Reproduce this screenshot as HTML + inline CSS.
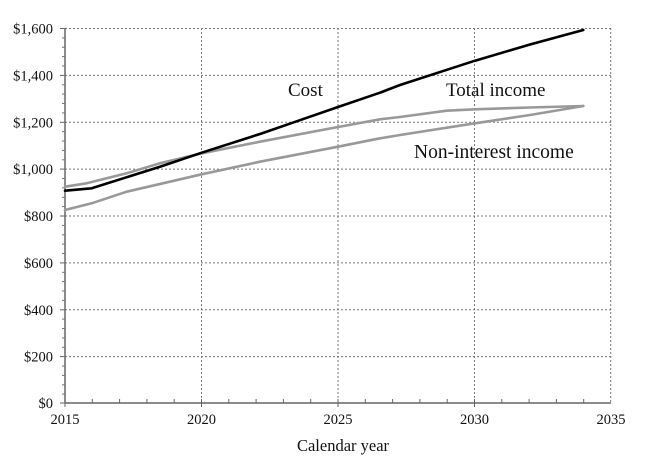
<!DOCTYPE html>
<html><head><meta charset="utf-8"><style>
html,body{margin:0;padding:0;background:#fff;}
svg{display:block;}
</style></head><body>
<svg width="648" height="468" viewBox="0 0 648 468" xmlns="http://www.w3.org/2000/svg" font-family="'Liberation Serif', serif">
<rect width="648" height="468" fill="#fff"/>
<!-- grid -->
<g stroke="#777" stroke-width="1" stroke-dasharray="2,2" fill="none">
<line x1="65" y1="28.5" x2="611" y2="28.5"/>
<line x1="65" y1="75.4" x2="611" y2="75.4"/>
<line x1="65" y1="122.3" x2="611" y2="122.3"/>
<line x1="65" y1="169.1" x2="611" y2="169.1"/>
<line x1="65" y1="216" x2="611" y2="216"/>
<line x1="65" y1="262.9" x2="611" y2="262.9"/>
<line x1="65" y1="309.8" x2="611" y2="309.8"/>
<line x1="65" y1="356.6" x2="611" y2="356.6"/>
<line x1="201.5" y1="28" x2="201.5" y2="403"/>
<line x1="338" y1="28" x2="338" y2="403"/>
<line x1="474.5" y1="28" x2="474.5" y2="403"/>
<line x1="610.7" y1="28" x2="610.7" y2="403"/>
</g>
<!-- axes -->
<g stroke="#666" stroke-width="1.5" fill="none">
<line x1="65" y1="28" x2="65" y2="403.5"/>
<line x1="64.5" y1="403" x2="611" y2="403"/>
</g>
<!-- y ticks -->
<g stroke="#666" stroke-width="1">
<line x1="60" y1="28.5" x2="65" y2="28.5"/>
<line x1="60" y1="75.4" x2="65" y2="75.4"/>
<line x1="60" y1="122.3" x2="65" y2="122.3"/>
<line x1="60" y1="169.1" x2="65" y2="169.1"/>
<line x1="60" y1="216" x2="65" y2="216"/>
<line x1="60" y1="262.9" x2="65" y2="262.9"/>
<line x1="60" y1="309.8" x2="65" y2="309.8"/>
<line x1="60" y1="356.6" x2="65" y2="356.6"/>
<line x1="60" y1="403" x2="65" y2="403"/>
</g>
<g stroke="#777" stroke-width="1">
<line x1="62" y1="37.9" x2="65" y2="37.9"/><line x1="62" y1="47.3" x2="65" y2="47.3"/><line x1="62" y1="56.6" x2="65" y2="56.6"/><line x1="62" y1="66" x2="65" y2="66"/>
<line x1="62" y1="84.8" x2="65" y2="84.8"/><line x1="62" y1="94.1" x2="65" y2="94.1"/><line x1="62" y1="103.5" x2="65" y2="103.5"/><line x1="62" y1="112.9" x2="65" y2="112.9"/>
<line x1="62" y1="131.6" x2="65" y2="131.6"/><line x1="62" y1="141" x2="65" y2="141"/><line x1="62" y1="150.4" x2="65" y2="150.4"/><line x1="62" y1="159.8" x2="65" y2="159.8"/>
<line x1="62" y1="178.5" x2="65" y2="178.5"/><line x1="62" y1="187.9" x2="65" y2="187.9"/><line x1="62" y1="197.3" x2="65" y2="197.3"/><line x1="62" y1="206.6" x2="65" y2="206.6"/>
<line x1="62" y1="225.4" x2="65" y2="225.4"/><line x1="62" y1="234.8" x2="65" y2="234.8"/><line x1="62" y1="244.1" x2="65" y2="244.1"/><line x1="62" y1="253.5" x2="65" y2="253.5"/>
<line x1="62" y1="272.3" x2="65" y2="272.3"/><line x1="62" y1="281.6" x2="65" y2="281.6"/><line x1="62" y1="291" x2="65" y2="291"/><line x1="62" y1="300.4" x2="65" y2="300.4"/>
<line x1="62" y1="319.1" x2="65" y2="319.1"/><line x1="62" y1="328.5" x2="65" y2="328.5"/><line x1="62" y1="337.9" x2="65" y2="337.9"/><line x1="62" y1="347.3" x2="65" y2="347.3"/>
<line x1="62" y1="366" x2="65" y2="366"/><line x1="62" y1="375.4" x2="65" y2="375.4"/><line x1="62" y1="384.8" x2="65" y2="384.8"/><line x1="62" y1="394.1" x2="65" y2="394.1"/>
</g>
<!-- x ticks -->
<g stroke="#666" stroke-width="1">
<line x1="92.3" y1="399" x2="92.3" y2="403"/><line x1="119.6" y1="399" x2="119.6" y2="403"/><line x1="146.9" y1="399" x2="146.9" y2="403"/><line x1="174.2" y1="399" x2="174.2" y2="403"/>
<line x1="228.8" y1="399" x2="228.8" y2="403"/><line x1="256.1" y1="399" x2="256.1" y2="403"/><line x1="283.4" y1="399" x2="283.4" y2="403"/><line x1="310.7" y1="399" x2="310.7" y2="403"/>
<line x1="365.3" y1="399" x2="365.3" y2="403"/><line x1="392.6" y1="399" x2="392.6" y2="403"/><line x1="419.9" y1="399" x2="419.9" y2="403"/><line x1="447.2" y1="399" x2="447.2" y2="403"/>
<line x1="501.8" y1="399" x2="501.8" y2="403"/><line x1="529.1" y1="399" x2="529.1" y2="403"/><line x1="556.4" y1="399" x2="556.4" y2="403"/><line x1="583.7" y1="399" x2="583.7" y2="403"/>
<line x1="201.5" y1="399" x2="201.5" y2="407"/><line x1="338" y1="399" x2="338" y2="407"/><line x1="474.5" y1="399" x2="474.5" y2="407"/><line x1="65" y1="403" x2="65" y2="407"/>
</g>
<!-- y labels -->
<g font-size="14.5" fill="#111" text-anchor="end">
<text x="53" y="33.5">$1,600</text>
<text x="53" y="80.4">$1,400</text>
<text x="53" y="127.3">$1,200</text>
<text x="53" y="174.1">$1,000</text>
<text x="53" y="221">$800</text>
<text x="53" y="267.9">$600</text>
<text x="53" y="314.8">$400</text>
<text x="53" y="361.6">$200</text>
<text x="53" y="408">$0</text>
</g>
<!-- x labels -->
<g font-size="14.5" fill="#111" text-anchor="middle">
<text x="65" y="424">2015</text>
<text x="201.5" y="424">2020</text>
<text x="338" y="424">2025</text>
<text x="474.5" y="424">2030</text>
<text x="611" y="424">2035</text>
</g>
<text x="343" y="451" font-size="16.5" fill="#111" text-anchor="middle">Calendar year</text>
<!-- series -->
<g fill="none" stroke-width="2.6" stroke-linejoin="round" stroke-linecap="round">
<polyline stroke="#999" points="65,210 91.7,203.3 126.7,191.7 201.7,174.3 260,161.7 338,146.7 380,138.3 400,135 475,123.3 530,115 583.3,106"/>
<polyline stroke="#999" points="65,186.7 86.7,183.3 126.7,173.3 160,163.3 201.7,153.3 260,141.7 338,127 380,119.3 400,117 446.7,110.7 475,109.3 530,107.5 583.3,106"/>
<polyline stroke="#000" points="65,190.7 91.7,188.3 160,166.7 201.7,152.7 260,134 296.7,121.3 338,107 380,92.7 400,85 475,60.7 530,44.5 583.3,30"/>
</g>
<!-- labels -->
<g font-size="19" fill="#111">
<text x="288" y="96">Cost</text>
<text x="446" y="96">Total income</text>
<text x="414" y="158" font-size="19.5">Non-interest income</text>
</g>
</svg>
</body></html>
